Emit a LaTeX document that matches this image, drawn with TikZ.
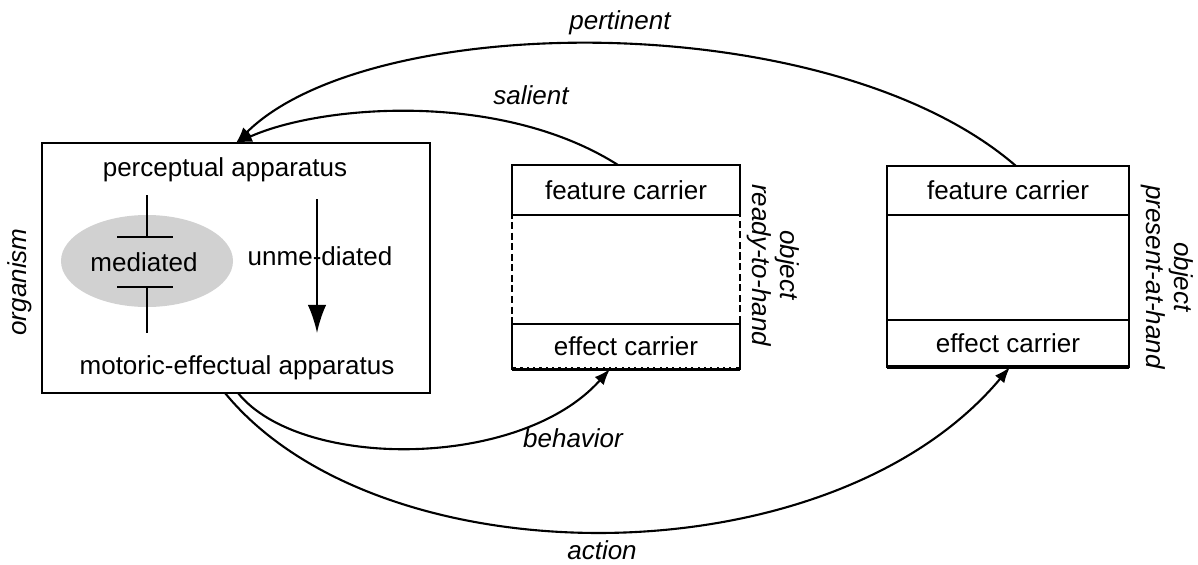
\documentclass[tikz,border=0pt]{standalone}
\usepackage{fontspec}
\setmainfont{Liberation Sans}
\usetikzlibrary{arrows.meta,shapes.geometric,positioning}

\begin{document}
\begin{tikzpicture}[x=0.025cm,y=-0.025cm,line width=1.5pt,
    every node/.style={font=\fontsize{18.5pt}{20pt}\selectfont},
    lbl/.style={font=\fontsize{18.5pt}{20pt}\selectfont\itshape},
    box/.style={draw,inner sep=0pt,outer sep=0pt},
    conn/.style={-{Latex[length=4mm,width=3mm]}}]
\def\px{0.025cm}%
\pgfmathsetmacro{\worg}{388}%
\pgfmathsetmacro{\horg}{250}%
\pgfmathsetmacro{\wmid}{228}%
\pgfmathsetmacro{\hmid}{204}%
\pgfmathsetmacro{\wright}{242}%
\pgfmathsetmacro{\hright}{201}%

\useasboundingbox (0,0) rectangle (1198,565);

    %organism
    \node[box,minimum width=\worg*\px,minimum height=\horg*\px] (org) at (236,268) {};
    \node (percept) at (225,170) {perceptual apparatus};
    \node (motor) at (237,368) {motoric-effectual apparatus};
    \node[lbl,rotate=90] (orglbl) at (20,282) {organism};

    %mediated
    \node[ellipse,fill=black!18,minimum width=172*\px,minimum height=92*\px] (medi) at (147,261) {};
    \node (meditxt) at (144,262) {mediated};
    \draw (147,195) -- (147,237);
    \draw (117,237) -- (173,237);
    \draw (117,287) -- (173,287);
    \draw (147,287) -- (147,333);

    %unmediated
    \node (unmed) at (320,256) {unme-diated};
    \draw[-{Latex[length=7mm,width=4.6mm]}] (317,199) -- (317,333);

    %object ready-to-hand
    \node[box,dash pattern=on 5pt off 2.5pt,minimum width=\wmid*\px,minimum height=\hmid*\px] (obj1) at (626,267) {};
    \node[box,anchor=north,minimum width=\wmid*\px,minimum height=50*\px] (fc1) at (obj1.north) {feature carrier};
    \node[box,anchor=south,minimum width=\wmid*\px,minimum height=45*\px] (ec1) at (obj1.south) {effect carrier};
    \draw[line width=3.5pt] (ec1.south west) -- (ec1.south east);
    \draw[white,dash pattern=on 3pt off 1.5pt,line width=0.7pt] ([xshift=3pt,yshift=0.9pt]ec1.south west) -- ([xshift=-3pt,yshift=0.9pt]ec1.south east);
    \node[rotate=-90,align=center] (obj1lbl) at (773,265) {\itshape object\\\itshape ready-to-hand};

    %object present-at-hand
    \node[box,minimum width=\wright*\px,minimum height=\hright*\px] (obj2) at (1008,266.5) {};
    \node[box,anchor=north,minimum width=\wright*\px,minimum height=49*\px] (fc2) at (obj2.north) {feature carrier};
    \node[box,anchor=south,minimum width=\wright*\px,minimum height=47*\px] (ec2) at (obj2.south) {effect carrier};
    \draw[line width=3.5pt] (ec2.south west) -- (ec2.south east);
    \node[rotate=-90,align=center] (obj2lbl) at (1167,277) {\itshape object\\\itshape present-at-hand};

    %arrows
    \draw[conn] ([xshift=0.2cm]obj2.north) .. controls (830,5) and (370,10) .. (org.north);
    \node[lbl] (pertinent) at (620,23) {pertinent};
    \draw[conn] ([xshift=-0.2cm]obj1.north) .. controls (500,90) and (320,105) .. (org.north);
    \node[lbl] (salient) at (531,95) {salient};
    \draw[conn] ([xshift=0.05cm]org.south) .. controls (300,470) and (520,470) .. ([xshift=-0.4cm]obj1.south);
    \node[lbl] (behavior) at (573,438) {behavior};
    \draw[conn] ([xshift=-0.275cm]org.south) .. controls (380,582) and (830,582) .. ([xshift=0.05cm]obj2.south);
    \node[lbl,inner sep=1pt] (action) at (602,550) {action};

\end{tikzpicture}
\end{document}
